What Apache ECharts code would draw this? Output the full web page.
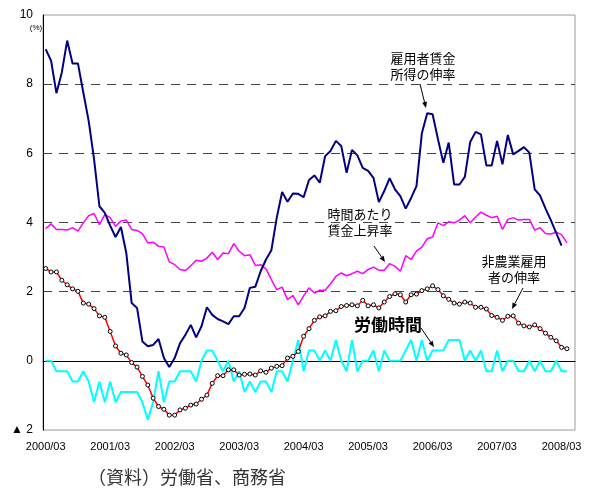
<!DOCTYPE html>
<html>
<head>
<meta charset="utf-8">
<script src="https://cdn.jsdelivr.net/npm/echarts@6/dist/echarts.min.js"></script>
<style>
  html, body { margin: 0; padding: 0; background: #fff; }
  #chart { width: 592px; height: 488px; }
</style>
</head>
<body>
<div id="chart"></div>
<script>
// months 2000/03 .. 2008/05 (axis runs a little past the last point)
const months = []
for (let y = 2000, m = 3; months.length < 99; m++) {
  if (m > 12) { m = 1; y++ }
  months.push(y + '/' + String(m).padStart(2, '0'))
}

// 雇用者賃金所得の伸率
const wageIncome = [
  9.01, 8.68, 7.74, 8.34, 9.26, 8.6, 8.6, 7.76, 6.94, 5.83,
  4.47, 4.28, 3.91, 3.58, 3.87, 3.12, 1.67, 1.53, 0.56, 0.42,
  0.46, 0.63, 0.08, -0.18, 0.08, 0.51, 0.75, 1.04, 0.68, 1.0,
  1.55, 1.33, 1.21, 1.14, 1.06, 1.29, 1.29, 1.53, 2.11, 2.14,
  2.59, 2.93, 3.2, 4.14, 4.88, 4.6, 4.84, 4.83, 4.73, 5.23,
  5.36, 5.15, 5.92, 6.07, 6.36, 6.21, 5.44, 6.1, 5.94, 5.58,
  5.49, 5.29, 4.59, 4.91, 5.28, 4.96, 4.76, 4.4, 4.71, 5.05,
  6.58, 7.16, 7.13, 6.41, 5.73, 6.31, 5.1, 5.1, 5.32, 6.33,
  6.62, 6.55, 5.65, 5.65, 6.36, 5.68, 6.53, 5.97, 6.07, 6.18,
  6.02, 4.96, 4.78, 4.41, 4.07, 3.7, 3.33
]
// 時間あたり賃金上昇率
const hourlyWage = [
  3.82, 3.96, 3.8, 3.8, 3.78, 3.85, 3.75, 3.99, 4.2, 4.26,
  3.94, 4.23, 4.14, 3.89, 4.04, 4.07, 3.8, 3.77, 3.68, 3.41,
  3.43, 3.31, 3.29, 2.86, 2.78, 2.64, 2.61, 2.75, 2.91, 2.88,
  2.97, 3.14, 2.93, 3.12, 3.1, 3.39, 3.17, 3.04, 3.07, 2.76,
  2.78, 2.66, 2.35, 2.06, 2.13, 1.77, 1.89, 1.62, 1.88, 2.11,
  1.96, 2.04, 2.04, 2.23, 2.44, 2.54, 2.46, 2.52, 2.59, 2.52,
  2.64, 2.71, 2.62, 2.62, 2.81, 2.73, 2.59, 3.04, 2.93, 3.17,
  3.29, 3.53, 3.58, 3.99, 3.91, 4.02, 3.99, 4.07, 4.2, 3.99,
  4.16, 4.3, 4.21, 4.14, 4.18, 3.8, 4.09, 4.14, 4.07, 4.09,
  4.09, 3.78, 3.85, 3.68, 3.67, 3.72, 3.65, 3.41
]
// 非農業雇用者の伸率
const payrolls = [
  2.67, 2.57, 2.57, 2.33, 2.2, 2.08, 2.01, 1.67, 1.64, 1.51,
  1.3, 1.26, 0.85, 0.43, 0.22, 0.17, -0.05, -0.18, -0.45, -0.7,
  -1.08, -1.32, -1.4, -1.57, -1.57, -1.42, -1.37, -1.28, -1.25, -1.11,
  -0.99, -0.65, -0.43, -0.43, -0.26, -0.26, -0.41, -0.39, -0.38, -0.41,
  -0.29, -0.33, -0.21, -0.16, -0.14, 0.08, 0.13, 0.27, 0.71, 0.93,
  1.17, 1.27, 1.3, 1.43, 1.45, 1.57, 1.6, 1.62, 1.59, 1.75,
  1.59, 1.62, 1.53, 1.7, 1.86, 1.94, 1.91, 1.7, 1.91, 1.93,
  2.03, 2.08, 2.17, 2.06, 1.88, 1.78, 1.67, 1.64, 1.7, 1.67,
  1.55, 1.55, 1.5, 1.31, 1.26, 1.17, 1.29, 1.3, 1.09, 1.01,
  0.98, 1.04, 0.93, 0.8, 0.68, 0.58, 0.39, 0.35
]
// 労働時間
const hours = [
  0, 0, -0.3, -0.3, -0.3, -0.6, -0.6, -0.3, -0.6, -1.2,
  -0.6, -1.2, -0.6, -1.2, -0.9, -0.9, -0.9, -0.9, -1.2, -1.7,
  -1.2, -0.3, -1.2, -0.6, -0.6, -0.3, -0.3, -0.3, -0.6, 0,
  0.3, 0.3, 0, -0.3, 0, -0.6, -0.3, -0.9, -0.6, -0.9,
  -0.6, -0.6, -0.9, -0.3, -0.3, -0.6, 0, 0.6, -0.3, 0.3,
  0.3, 0, 0.3, 0, 0.6, 0, -0.3, 0.6, -0.3, 0,
  0, 0.3, -0.3, 0.3, 0, 0, 0, 0.3, 0.6, 0,
  0.6, 0, 0.3, 0.3, 0.3, 0.6, 0.6, 0.6, 0, 0.3,
  0, 0.3, -0.3, -0.3, 0.3, -0.3, 0, 0, -0.3, -0.3,
  0, -0.3, 0, -0.3, -0.3, 0, -0.3, -0.3
]

const numFont = '"Liberation Sans", "Noto Sans CJK JP", sans-serif'
const jpFont = '"Noto Sans CJK JP", sans-serif'

function arrow(x1, y1, x2, y2) {
  const a = Math.atan2(y2 - y1, x2 - x1), l = 6, w = 2.5
  const bx = x2 - l * Math.cos(a), by = y2 - l * Math.sin(a)
  return [
    { type: 'line', shape: { x1: x1, y1: y1, x2: bx, y2: by }, style: { stroke: '#000', lineWidth: 1 } },
    {
      type: 'polygon',
      shape: { points: [[x2, y2], [bx - w * Math.sin(a), by + w * Math.cos(a)], [bx + w * Math.sin(a), by - w * Math.cos(a)]] },
      style: { fill: '#000' },
    },
  ]
}

function note(text, x, y, size, weight) {
  return {
    type: 'text',
    style: {
      text: text, x: x, y: y, align: 'center', verticalAlign: 'middle',
      font: (weight || 'normal') + ' ' + size + 'px ' + jpFont,
      lineHeight: 16, fill: '#000',
    },
  }
}

const chart = echarts.init(document.getElementById('chart'))
const hide = 'rgba(0,0,0,0)'

const options = {
  animation: false,
  grid: { left: 43, right: 17, top: 15, bottom: 58, show: true, borderColor: '#999', borderWidth: 1 },
  xAxis: [
    {
      type: 'category',
      data: months,
      position: 'bottom',
      boundaryGap: true,
      axisLine: { onZero: true, lineStyle: { color: '#000', width: 1 } },
      axisTick: { interval: 5, inside: true, length: 4, lineStyle: { color: '#000' } },
      axisLabel: { show: false },
      splitLine: { show: false },
    },
    {
      type: 'category',
      data: months,
      position: 'bottom',
      boundaryGap: true,
      axisLine: { show: false, onZero: false },
      axisTick: { show: false },
      axisLabel: { interval: 11, fontSize: 11, color: '#000', margin: 11, fontFamily: numFont },
      splitLine: { show: false },
    },
  ],
  yAxis: {
    type: 'value',
    min: -2,
    max: 10,
    interval: 2,
    axisLine: { show: true, lineStyle: { color: '#000', width: 1 } },
    axisTick: { show: false },
    axisLabel: {
      fontSize: 12, color: '#000', margin: 10, fontFamily: numFont,
      formatter: function (v) { return v < 0 ? '▲ ' + (-v) : v },
    },
    splitLine: {
      show: true,
      lineStyle: { type: [9, 7], width: 1, color: [hide, hide, '#444', '#444', '#444', '#444', hide] },
    },
  },
  series: [
    {
      name: '時間あたり賃金上昇率', type: 'line', data: hourlyWage, symbol: 'none',
      lineStyle: { color: '#ff00ff', width: 1.5 }, itemStyle: { color: '#ff00ff' },
    },
    {
      name: '雇用者賃金所得の伸率', type: 'line', data: wageIncome, symbol: 'none',
      lineStyle: { color: '#000080', width: 2 }, itemStyle: { color: '#000080' },
    },
    {
      name: '労働時間', type: 'line', data: hours, symbol: 'none',
      lineStyle: { color: '#00ffff', width: 2 }, itemStyle: { color: '#00ffff' },
    },
    {
      name: '非農業雇用者の伸率', type: 'line', data: payrolls,
      symbol: 'circle', symbolSize: 4, showAllSymbol: true,
      lineStyle: { color: '#ff0000', width: 1.5 },
      itemStyle: { color: '#fff', borderColor: '#000', borderWidth: 1 },
    },
  ],
  graphic: [
    { type: 'text', style: { text: '(%)', x: 36, y: 28, align: 'center', verticalAlign: 'middle', font: '8px ' + numFont, fill: '#000' } },
    note('雇用者賃金\n所得の伸率', 423, 66, 13),
    note('時間あたり\n賃金上昇率', 360, 222, 13),
    note('非農業雇用\n者の伸率', 514, 269, 13),
    note('労働時間', 388, 325, 17, 'bold'),
    ...arrow(420, 84, 426, 108),
    ...arrow(374, 246, 385, 262),
    ...arrow(523, 288, 512, 309),
    ...arrow(421, 328, 434, 347),
    {
      type: 'text',
      style: { text: '（資料）労働省、商務省', x: 88, y: 477, verticalAlign: 'middle', font: '18px ' + jpFont, fill: '#333' },
    },
  ],
}
options && chart.setOption(options, false)
</script>
</body>
</html>
